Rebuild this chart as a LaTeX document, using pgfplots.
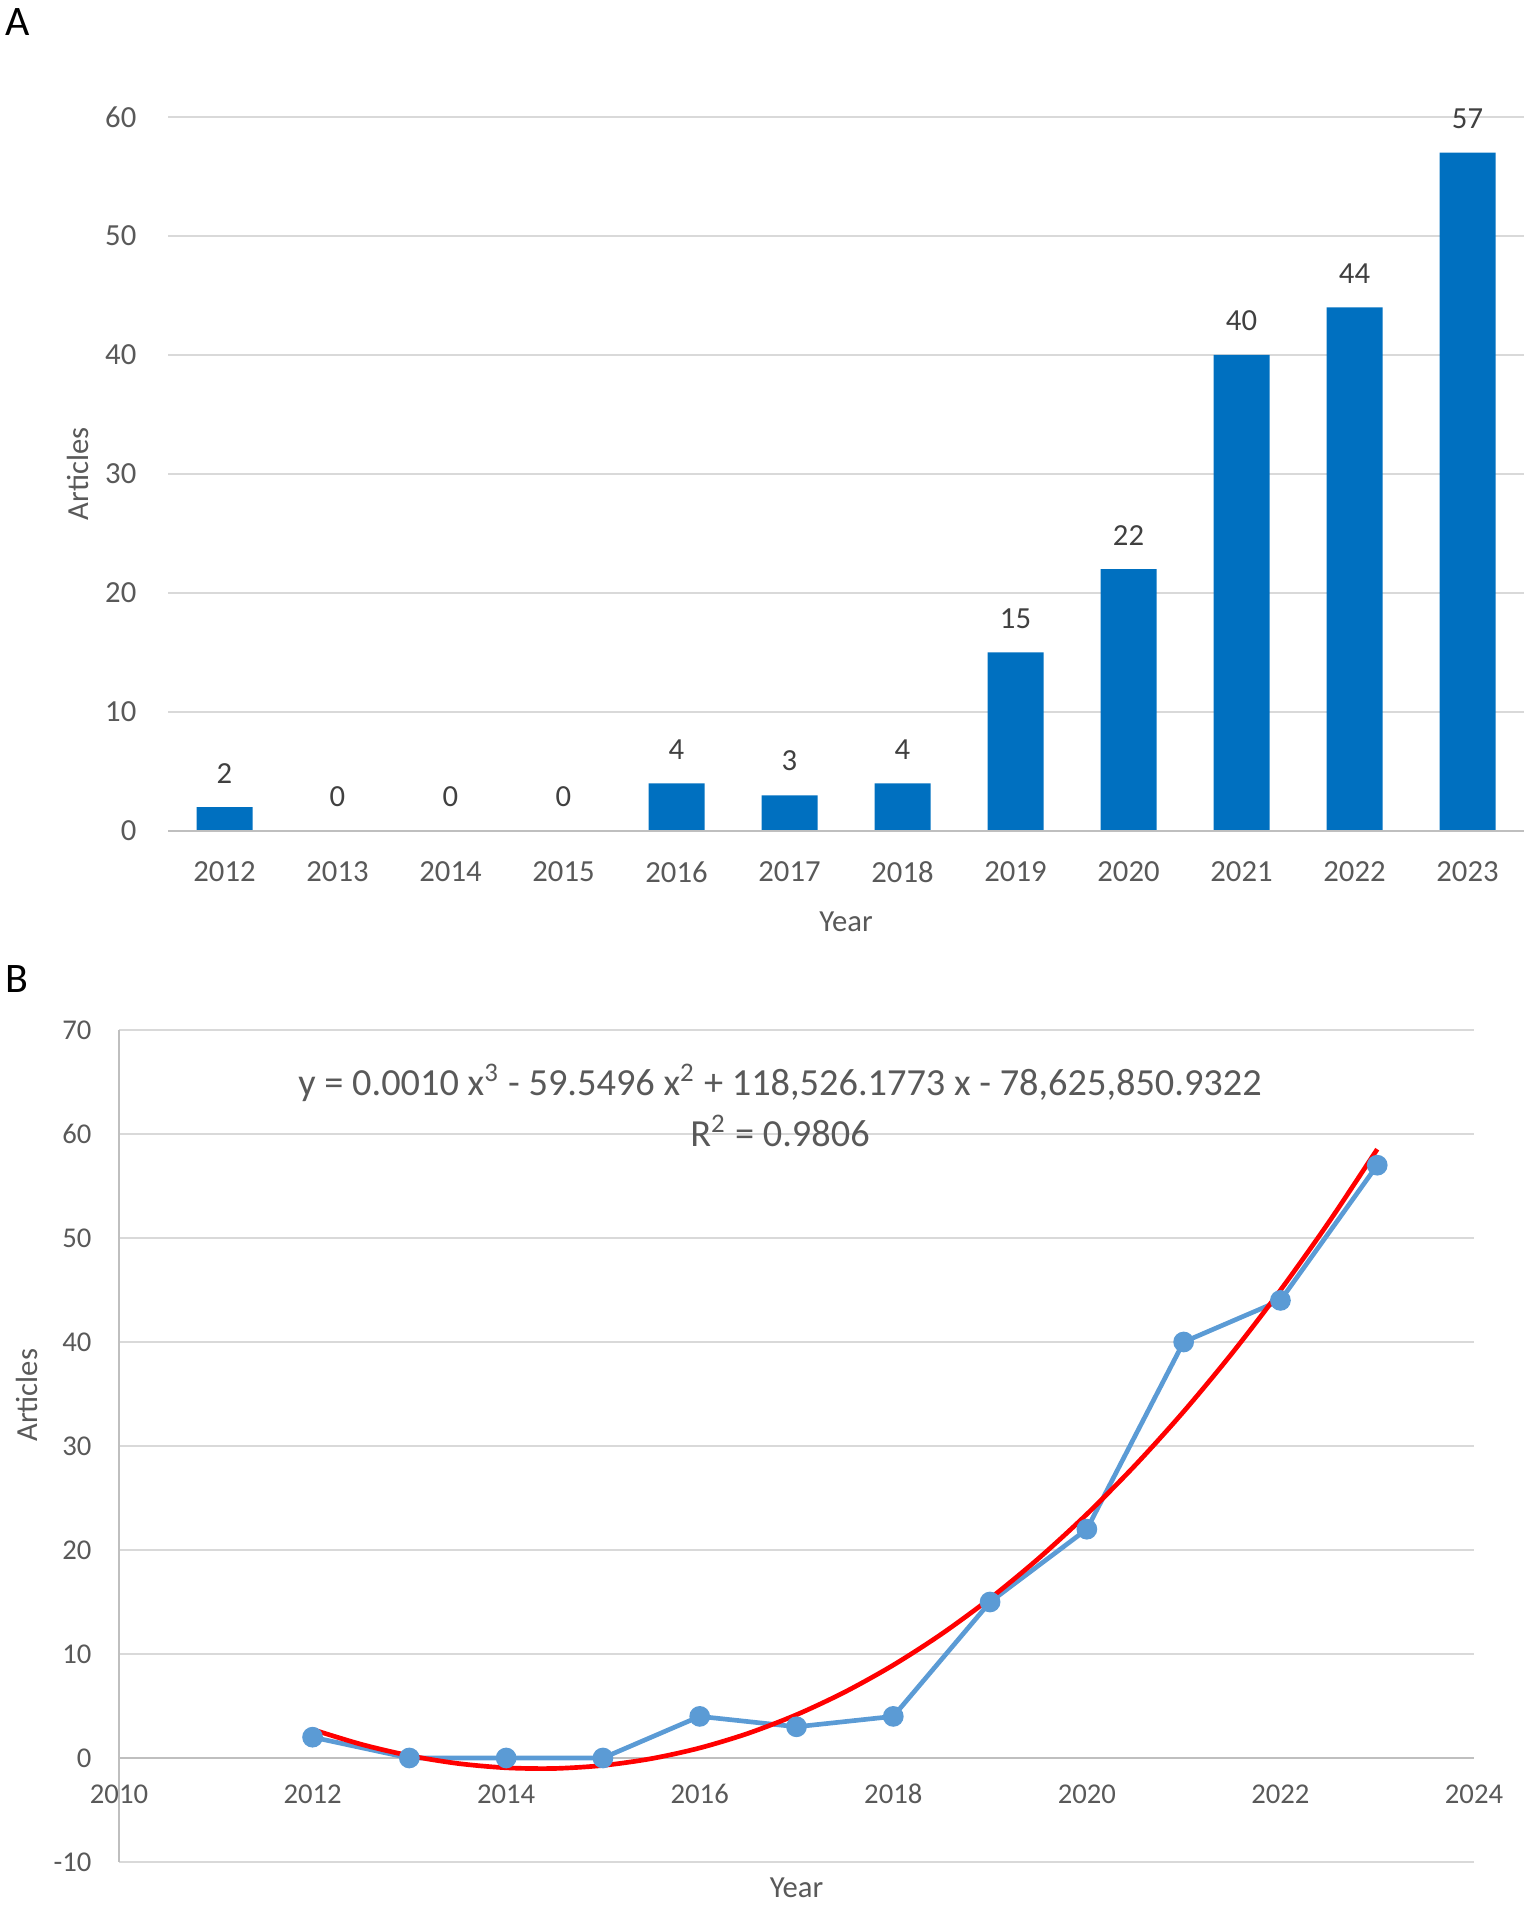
\documentclass[border=0pt]{standalone}
\usepackage{fontspec}
\setmainfont{Carlito}
\usepackage{pgfplots}
\pgfplotsset{compat=1.18}
\definecolor{txt}{HTML}{595959}
\definecolor{lbl}{HTML}{404040}
\definecolor{barc}{HTML}{0070C0}
\definecolor{linec}{HTML}{5B9BD5}
\definecolor{gridc}{HTML}{D9D9D9}
\definecolor{axisc}{HTML}{BFBFBF}
\begin{document}
\begin{tikzpicture}[x=1pt,y=1pt]
\path[use as bounding box] (0,0) rectangle (460.5,572.4);
\node[font=\fontsize{12.6}{14}\selectfont, anchor=center] at (5.4,565.8) {A};
\node[font=\fontsize{12.6}{14}\selectfont, anchor=center] at (5.1,278.7) {B};

\begin{axis}[
  at={(50.4pt,323.1pt)}, anchor=south west,
  scale only axis, width=406.8pt, height=214.2pt,
  xmin=-0.5, xmax=11.5, ymin=0, ymax=60,
  ytick={0,10,...,60},
  xtick={0,...,11},
  xticklabels={2012,2013,2014,2015,2016,2017,2018,2019,2020,2021,2022,2023},
  ymajorgrids, grid style={draw=gridc, line width=0.6pt},
  axis line style={draw=none},
  major tick length=0pt,
  /pgf/number format/assume math mode=true,
  tick label style={font=\fontsize{9.2}{11}\selectfont, text=txt},
  yticklabel style={anchor=east, inner sep=0pt, xshift=-9.3pt},
  xticklabel style={anchor=center, inner sep=0pt, yshift=-12.3pt},
  clip=false,
]
\addplot[ybar, bar width=16.8pt, fill=barc, draw=none,
  nodes near coords,
  nodes near coords style={font=\fontsize{9.2}{11}\selectfont, text=lbl, yshift=3.7pt}]
  coordinates {(0,2) (1,0) (2,0) (3,0) (4,4) (5,3) (6,4) (7,15) (8,22) (9,40) (10,44) (11,57)};
\draw[axisc, line width=0.7pt] (axis cs:-0.5,0) -- (axis cs:11.5,0);
\node[font=\fontsize{9.2}{11}\selectfont, text=txt] at (axis description cs:0.5,-0.1275) {Year};
\node[font=\fontsize{9.2}{11}\selectfont, text=txt, rotate=90] at (axis description cs:-0.0664,0.5) {Articles};
\end{axis}

\begin{axis}[
  at={(35.7pt,13.8pt)}, anchor=south west,
  scale only axis, width=406.5pt, height=249.6pt,
  xmin=2010, xmax=2024, ymin=-10, ymax=70,
  xtick={2010,2012,...,2024},
  ytick={-10,0,...,70},
  ymajorgrids, grid style={draw=gridc, line width=0.6pt},
  axis line style={draw=none},
  major tick length=0pt,
  /pgf/number format/assume math mode=true,
  /pgf/number format/1000 sep={},
  tick label style={font=\fontsize{8.6}{10}\selectfont, text=txt},
  yticklabel style={anchor=east, inner sep=0pt, xshift=-8.1pt},
  xticklabel style={anchor=center, inner sep=0pt, yshift=20.4pt},
  clip=false,
]
\draw[axisc, line width=0.7pt] (axis cs:2010,-10) -- (axis cs:2010,70);
\draw[axisc, line width=0.7pt] (axis cs:2010,0) -- (axis cs:2024,0);
\addplot[color=linec, line width=1.4pt, mark=*, mark size=2.4pt, mark options={fill=linec, draw=linec}]
  coordinates {(2012,2) (2013,0) (2014,0) (2015,0) (2016,4) (2017,3) (2018,4) (2019,15) (2020,22) (2021,40) (2022,44) (2023,57)};
\addplot[color=red, line width=1.4pt, smooth, no marks]
  coordinates {(2012,2.740) (2012.5,1.322) (2013,0.231) (2013.5,-0.526) (2014,-0.941) (2014.5,-1.007) (2015,-0.716) (2015.5,-0.061) (2016,0.965) (2016.5,2.370) (2017,4.162) (2017.5,6.348) (2018,8.935) (2018.5,11.932) (2019,15.345) (2019.5,19.181) (2020,23.449) (2020.5,28.156) (2021,33.310) (2021.5,38.916) (2022,44.985) (2022.5,51.523) (2023,58.536)};
\node[font=\fontsize{11.5}{13}\selectfont, text=txt] at (axis cs:2016.83,64.9)
  {y = 0.0010 x\textsuperscript{3} - 59.5496 x\textsuperscript{2} + 118,526.1773 x - 78,625,850.9322};
\node[font=\fontsize{11.5}{13}\selectfont, text=txt] at (axis cs:2016.83,60.3) {R\textsuperscript{2} = 0.9806};
\node[font=\fontsize{9.2}{11}\selectfont, text=txt] at (axis description cs:0.5,-0.03125) {Year};
\node[font=\fontsize{9.2}{11}\selectfont, text=txt, rotate=90] at (axis description cs:-0.0679,0.561) {Articles};
\end{axis}
\end{tikzpicture}
\end{document}
